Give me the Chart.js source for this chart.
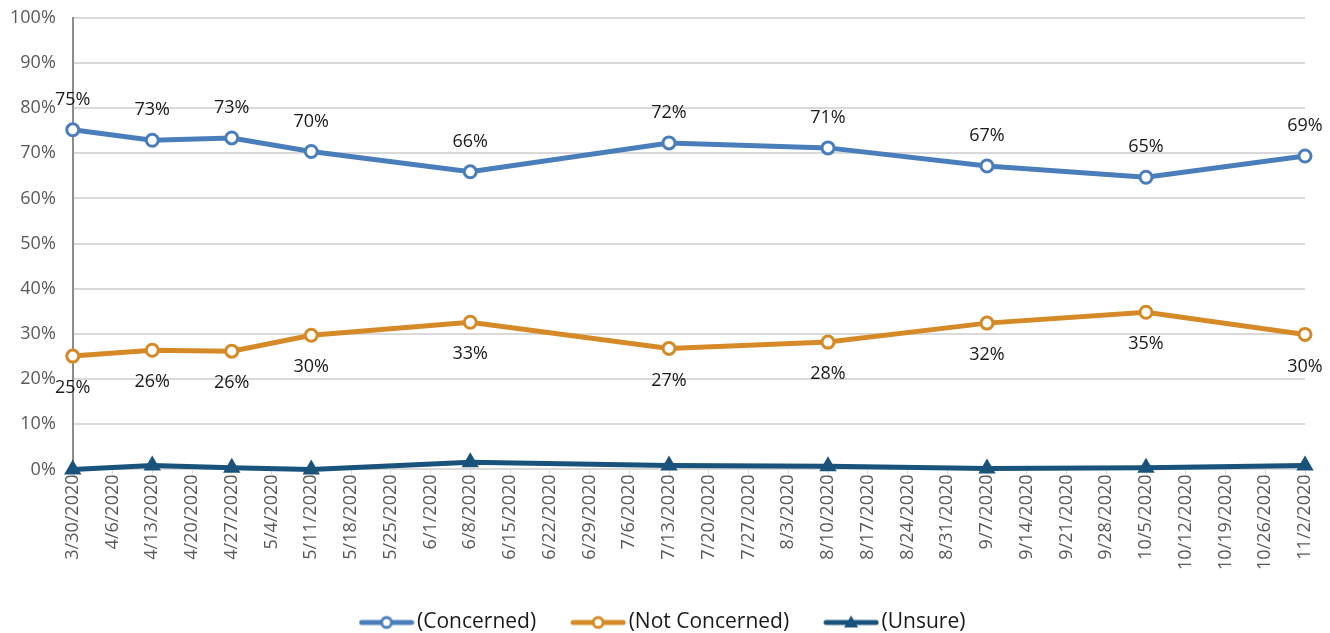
<!DOCTYPE html>
<html>
<head>
<meta charset="utf-8">
<script src="https://cdn.jsdelivr.net/npm/chart.js@4.4.1/dist/chart.umd.min.js"></script>
<style>
  html, body { margin: 0; padding: 0; background: #fff; overflow: hidden; }
  #wrap { width: 1330px; height: 643px; position: relative; top: -10px; }
</style>
</head>
<body>
<div id="wrap"><canvas id="chart"></canvas></div>
<script>
// weekly category labels
const weeks = ['3/30/2020', '4/6/2020', '4/13/2020', '4/20/2020', '4/27/2020', '5/4/2020', '5/11/2020',
    '5/18/2020', '5/25/2020', '6/1/2020', '6/8/2020', '6/15/2020', '6/22/2020', '6/29/2020', '7/6/2020',
    '7/13/2020', '7/20/2020', '7/27/2020', '8/3/2020', '8/10/2020', '8/17/2020', '8/24/2020', '8/31/2020',
    '9/7/2020', '9/14/2020', '9/21/2020', '9/28/2020', '10/5/2020', '10/12/2020', '10/19/2020',
    '10/26/2020', '11/2/2020'];

// survey dates that have values
const surveyDates = ['3/30/2020', '4/13/2020', '4/27/2020', '5/11/2020', '6/8/2020', '7/13/2020',
    '8/10/2020', '9/7/2020', '10/5/2020', '11/2/2020'];
const concerned = [75.2, 72.9, 73.4, 70.4, 65.9, 72.3, 71.2, 67.2, 64.7, 69.4];
const notConcerned = [25.1, 26.4, 26.2, 29.7, 32.6, 26.8, 28.2, 32.4, 34.8, 29.9];
const unsure = [0.0, 0.9, 0.4, 0.0, 1.6, 0.9, 0.7, 0.2, 0.4, 0.9];

const yTicks = [0, 10, 20, 30, 40, 50, 60, 70, 80, 90, 100];

const BLUE = '#4a7ebb';
const ORANGE = '#d58a27';
const NAVY = '#19527a';

function toSeries(vals) {
    return surveyDates.map((d, i) => ({ x: d, y: vals[i] }));
}

// line + marker swatch; drawn wider than the legend box so it sits close to the text
function legendIcon(color, triangle) {
    const c = document.createElement('canvas');
    c.width = 56; c.height = 16;
    const g = c.getContext('2d');
    g.strokeStyle = color;
    g.lineWidth = 5;
    g.lineCap = 'round';
    g.beginPath(); g.moveTo(3, 8); g.lineTo(53, 8); g.stroke();
    if (triangle) {
        g.fillStyle = color;
        g.beginPath(); g.moveTo(28, 1); g.lineTo(35, 13); g.lineTo(21, 13); g.closePath(); g.fill();
    } else {
        g.fillStyle = '#fff';
        g.lineWidth = 3;
        g.beginPath(); g.arc(28, 8, 5, 0, Math.PI * 2); g.fill(); g.stroke();
    }
    return c;
}

const valueLabels = {
    id: 'valueLabels',
    afterDatasetsDraw(chart) {
        const ctx = chart.ctx;
        ctx.save();
        ctx.font = '18px "Open Sans"';
        ctx.fillStyle = '#1a1a1a';
        ctx.textAlign = 'center';
        ctx.textBaseline = 'middle';
        chart.data.datasets.forEach((ds, i) => {
            if (!ds.labelOffset) return;
            chart.getDatasetMeta(i).data.forEach((pt, j) => {
                ctx.fillText(Math.round(ds.data[j].y) + '%', pt.x, pt.y + ds.labelOffset);
            });
        });
        ctx.restore();
    }
};

// legend padding is big for horizontal spacing; keep its box short and a bit right
const legendTweak = {
    id: 'legendTweak',
    beforeUpdate(chart) {
        const lg = chart.legend;
        if (!lg || lg._tweaked) return;
        const fit = lg.fit;
        lg.fit = function () { fit.call(this); this.height = 63; };
        lg._tweaked = true;
    },
    afterLayout(chart) {
        chart.legend.left += 17;
        chart.legend.right += 17;
    }
};

new Chart(document.getElementById('chart'), {
    type: 'line',
    data: {
        labels: weeks,
        datasets: [
            {
                label: '(Concerned)',
                data: toSeries(concerned),
                borderColor: BLUE,
                backgroundColor: '#fff',
                borderWidth: 5,
                pointRadius: 6,
                pointBorderWidth: 3,
                pointBackgroundColor: '#fff',
                pointBorderColor: BLUE,
                labelOffset: -30,
                legendIcon: legendIcon(BLUE, false),
                clip: false
            },
            {
                label: '(Not Concerned)',
                data: toSeries(notConcerned),
                borderColor: ORANGE,
                backgroundColor: '#fff',
                borderWidth: 5,
                pointRadius: 6,
                pointBorderWidth: 3,
                pointBackgroundColor: '#fff',
                pointBorderColor: ORANGE,
                labelOffset: 32,
                legendIcon: legendIcon(ORANGE, false),
                clip: false
            },
            {
                label: '(Unsure)',
                data: toSeries(unsure),
                borderColor: NAVY,
                backgroundColor: NAVY,
                borderWidth: 5,
                pointStyle: 'triangle',
                pointRadius: 10,
                pointBorderWidth: 0,
                pointBackgroundColor: NAVY,
                legendIcon: legendIcon(NAVY, true),
                clip: false
            }
        ]
    },
    options: {
        responsive: true,
        maintainAspectRatio: false,
        animation: false,
        spanGaps: true,
        layout: { padding: { left: -7, right: 25, top: 0, bottom: 0 } },
        plugins: {
            tooltip: { enabled: false },
            legend: {
                position: 'bottom',
                labels: {
                    usePointStyle: true,
                    pointStyleWidth: 40,
                    padding: 42,
                    color: '#1a1a1a',
                    font: { family: '"Open Sans"', size: 21 },
                    generateLabels(chart) {
                        return chart.data.datasets.map((ds, i) => ({
                            text: ds.label,
                            pointStyle: ds.legendIcon,
                            fontColor: '#1a1a1a',
                            lineWidth: 0,
                            datasetIndex: i
                        }));
                    }
                }
            }
        },
        scales: {
            x: {
                type: 'category',
                offset: false,
                grid: { drawOnChartArea: false, drawTicks: true, tickLength: 5, color: '#d9d9d9' },
                border: { color: '#d9d9d9', width: 2 },
                ticks: {
                    autoSkip: false,
                    maxRotation: 90,
                    minRotation: 90,
                    padding: 0,
                    color: '#595959',
                    font: { family: '"Open Sans"', size: 18 }
                }
            },
            y: {
                min: 0,
                max: 100,
                afterBuildTicks(axis) { axis.ticks = yTicks.map(v => ({ value: v })); },
                grid: { color: '#d9d9d9', lineWidth: 2, drawTicks: false },
                border: { color: '#8c8c8c', width: 2 },
                ticks: {
                    padding: 17,
                    color: '#595959',
                    font: { family: '"Open Sans"', size: 18 },
                    callback: v => v + '%'
                }
            }
        }
    },
    plugins: [valueLabels, legendTweak]
});
</script>
</body>
</html>
